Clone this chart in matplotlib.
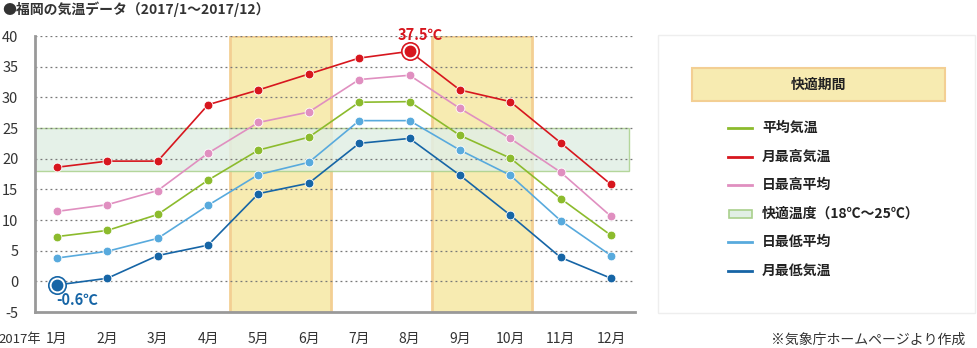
import matplotlib
matplotlib.use("Agg")
import matplotlib.pyplot as plt
from matplotlib.patches import Rectangle
from matplotlib.lines import Line2D

plt.rcParams['font.family'] = ['Noto Sans CJK JP', 'DejaVu Sans']

months = list(range(1, 13))
month_labels = [f"{m}月" for m in months]
avg_temp = [7.3, 8.3, 10.9, 16.5, 21.4, 23.5, 29.2, 29.3, 23.8, 20.1, 13.5, 7.5]
max_temp = [18.6, 19.6, 19.6, 28.8, 31.2, 33.8, 36.4, 37.5, 31.2, 29.3, 22.6, 15.8]
daily_max_avg = [11.4, 12.5, 14.8, 20.9, 25.9, 27.6, 32.9, 33.6, 28.2, 23.3, 17.8, 10.6]
daily_min_avg = [3.8, 4.9, 7.0, 12.4, 17.4, 19.4, 26.2, 26.2, 21.4, 17.3, 9.9, 4.2]
min_temp = [-0.6, 0.5, 4.2, 5.9, 14.3, 16.0, 22.5, 23.3, 17.3, 10.8, 3.9, 0.5]
comfort_range = (18, 25)
comfort_periods = [(5, 6), (9, 10)]
yticks = list(range(-5, 41, 5))

W, H = 978, 348
fig = plt.figure(figsize=(W / 100, H / 100), dpi=100)

def fx(px):
    return px / W

def fy(py):
    return 1 - py / H

ax_left, ax_right, ax_top, ax_bot = 35, 635, 36, 312
ax = fig.add_axes([fx(ax_left), fy(ax_bot), fx(ax_right - ax_left), fy(ax_top) - fy(ax_bot)])
ax.set_xlim(0.563, 12.477)
ax.set_ylim(-5, 40)

C_GREEN = '#8cbb2d'
C_RED = '#d7161e'
C_PINK = '#e08fc0'
C_LBLUE = '#58aadd'
C_DBLUE = '#1665a6'
C_YEL = '#f7ebb1'
C_YEL_EDGE = '#f3cf93'
C_COMF = '#e1efe5'
C_COMF_EDGE = '#a9d08c'

# comfort periods
for a, b in comfort_periods:
    ax.add_patch(Rectangle((a - 0.56, -5), (b - a) + 1.0, 45, facecolor=C_YEL,
                           edgecolor=C_YEL_EDGE, linewidth=2, zorder=1))
# comfort temp band
ax.add_patch(Rectangle((0.563, comfort_range[0]), 12.35 - 0.563, comfort_range[1] - comfort_range[0],
                       facecolor=C_COMF, edgecolor=C_COMF_EDGE, linewidth=1, alpha=0.85, zorder=2))

# grid
for yv in yticks[1:]:
    ax.axhline(yv, color='#777777', linestyle=(0, (1.5, 2.5)), linewidth=0.9, zorder=3)

series = [
    (daily_max_avg, C_PINK),
    (avg_temp, C_GREEN),
    (daily_min_avg, C_LBLUE),
    (max_temp, C_RED),
    (min_temp, C_DBLUE),
]
for vals, c in series:
    ax.plot(months, vals, color=c, linewidth=1.2, marker='o', markersize=6.3,
            markeredgecolor='white', markeredgewidth=0.6, zorder=5)

# highlight points
imax = max_temp.index(max(max_temp))
imin = min_temp.index(min(min_temp))
ax.plot(months[imax], max_temp[imax], marker='o', markersize=12.5, markerfacecolor='white',
        markeredgecolor=C_RED, markeredgewidth=1.2, zorder=6)
ax.plot(months[imax], max_temp[imax], marker='o', markersize=7.5, color=C_RED, zorder=7)
ax.plot(months[imin], min_temp[imin], marker='o', markersize=12.5, markerfacecolor='white',
        markeredgecolor=C_DBLUE, markeredgewidth=1.2, zorder=6)
ax.plot(months[imin], min_temp[imin], marker='o', markersize=7.5, color=C_DBLUE, zorder=7)
ax.annotate(f"{max(max_temp)}℃", (months[imax], max_temp[imax]), xytext=(8, 12),
            textcoords='offset points', ha='center', va='center', color=C_RED,
            fontsize=10.5, fontweight='bold', zorder=8, annotation_clip=False)
ax.annotate(f"{min(min_temp)}℃", (months[imin], min_temp[imin]), xytext=(14.5, -11),
            textcoords='offset points', ha='center', va='center', color=C_DBLUE,
            fontsize=10.5, fontweight='bold', zorder=8, annotation_clip=False)

# axes styling
for s in ['top', 'right']:
    ax.spines[s].set_visible(False)
for s in ['left', 'bottom']:
    ax.spines[s].set_color('#999999')
    ax.spines[s].set_linewidth(2)
    ax.spines[s].set_zorder(4)
ax.set_yticks(yticks)
ax.set_yticklabels([str(v) for v in yticks], fontsize=10.5, color='#333333')
ax.set_xticks(months)
ax.set_xticklabels(month_labels, fontsize=10, color='#333333')
ax.tick_params(axis='both', length=0)
ax.tick_params(axis='y', pad=12)
ax.tick_params(axis='x', pad=14)

fig.text(fx(20), fy(339), "2017年", fontsize=9.5, color='#333333', ha='center', va='center')

# title
fig.text(fx(2), fy(9), "●福岡の気温データ（2017/1～2017/12）", fontsize=10, fontweight='bold',
         color='#333333', ha='left', va='center')

# legend panel
fig.patches.append(Rectangle((fx(658), fy(313)), fx(975 - 658), fy(35) - fy(313),
                             transform=fig.transFigure, facecolor='white', edgecolor='#eeeeee',
                             linewidth=1, zorder=1))
fig.patches.append(Rectangle((fx(692), fy(101)), fx(945 - 692), fy(68) - fy(101),
                             transform=fig.transFigure, facecolor=C_YEL, edgecolor=C_YEL_EDGE,
                             linewidth=1.5, zorder=2))
fig.text(fx(819), fy(85), "快適期間", fontsize=10, fontweight='bold', color='#222222',
         ha='center', va='center', zorder=3)

legend_items = [
    ('line', C_GREEN, "平均気温"),
    ('line', C_RED, "月最高気温"),
    ('line', C_PINK, "日最高平均"),
    ('box', None, "快適温度（18℃～25℃）"),
    ('line', C_LBLUE, "日最低平均"),
    ('line', C_DBLUE, "月最低気温"),
]
for i, (kind, c, label) in enumerate(legend_items):
    yy = 128 + i * 28.6
    if kind == 'line':
        fig.lines.append(Line2D([fx(728), fx(752)], [fy(yy), fy(yy)], transform=fig.transFigure,
                                color=c, linewidth=2, zorder=3))
    else:
        fig.patches.append(Rectangle((fx(729), fy(yy + 4)), fx(23), fy(yy - 4) - fy(yy + 4),
                                     transform=fig.transFigure, facecolor=C_COMF,
                                     edgecolor=C_COMF_EDGE, linewidth=1.2, zorder=3))
    fig.text(fx(762), fy(yy), label, fontsize=10, fontweight='bold', color='#222222',
             ha='left', va='center', zorder=3)

fig.text(fx(965), fy(340), "※気象庁ホームページより作成", fontsize=10, color='#333333',
         ha='right', va='center')

fig.savefig("out.png", dpi=100)
